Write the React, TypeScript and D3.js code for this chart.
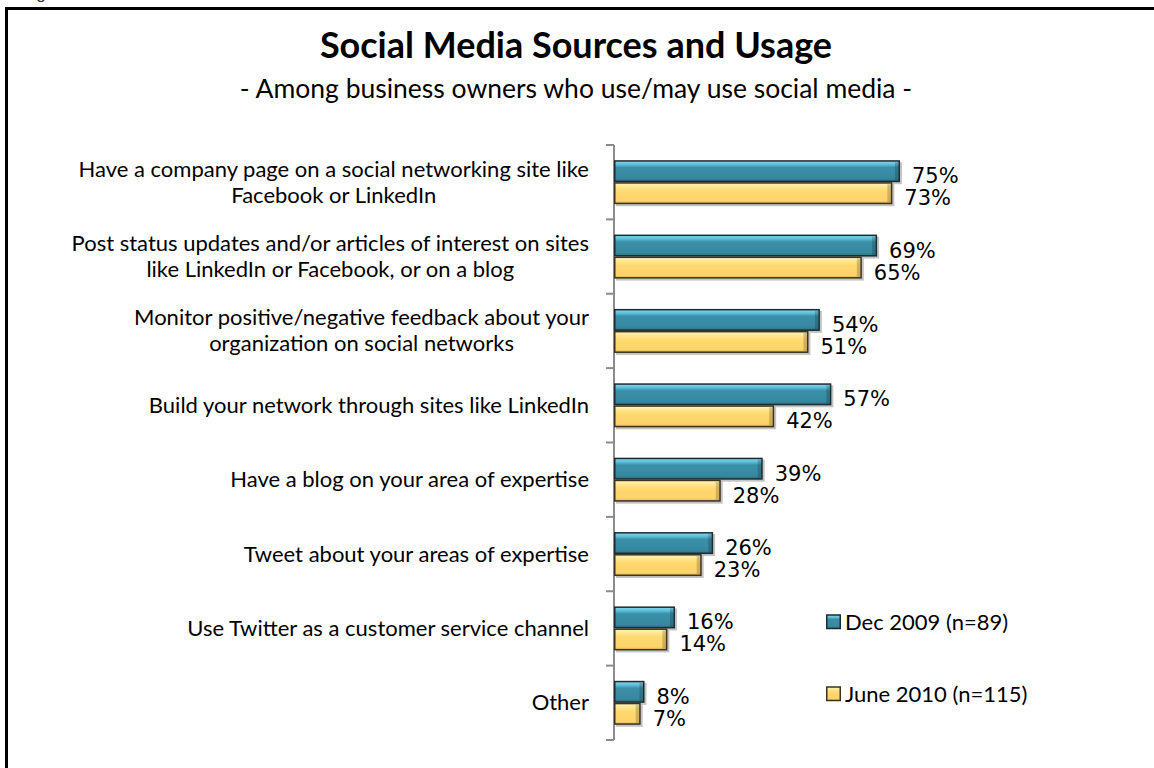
import React, { useEffect, useRef } from "react";
import * as d3 from "d3";

const categories: string[][] = [
  ["Have a company page on a social networking site like", "Facebook or LinkedIn"],
  ["Post status updates and/or articles of interest on sites", "like LinkedIn or Facebook, or on a blog"],
  ["Monitor positive/negative feedback about your", "organization on social networks"],
  ["Build your network through sites like LinkedIn"],
  ["Have a blog on your area of expertise"],
  ["Tweet about your areas of expertise"],
  ["Use Twitter as a customer service channel"],
  ["Other"],
];
const dec2009: number[] = [75, 69, 54, 57, 39, 26, 16, 8];
const june2010: number[] = [73, 65, 51, 42, 28, 23, 14, 7];
const seriesNames: string[] = ["Dec 2009 (n=89)", "June 2010 (n=115)"];
const title = "Social Media Sources and Usage";
const subtitle = "- Among business owners who use/may use social media -";

const W = 1154;
const H = 768;
const LABEL_FONT = "Lato, 'Open Sans', sans-serif";

export default function App() {
  const ref = useRef<SVGSVGElement | null>(null);

  useEffect(() => {
    const svg = d3.select(ref.current);
    svg.selectAll("*").remove();

    const defs = svg.append("defs");
    const tg = defs.append("linearGradient").attr("id", "teal").attr("x1", 0).attr("y1", 0).attr("x2", 0).attr("y2", 1);
    tg.append("stop").attr("offset", "0%").attr("stop-color", "#86d9f0");
    tg.append("stop").attr("offset", "18%").attr("stop-color", "#5cbcd8");
    tg.append("stop").attr("offset", "32%").attr("stop-color", "#3b90a8");
    tg.append("stop").attr("offset", "85%").attr("stop-color", "#36889f");
    tg.append("stop").attr("offset", "100%").attr("stop-color", "#2a6f84");
    const yg = defs.append("linearGradient").attr("id", "yellow").attr("x1", 0).attr("y1", 0).attr("x2", 0).attr("y2", 1);
    yg.append("stop").attr("offset", "0%").attr("stop-color", "#fff6b8");
    yg.append("stop").attr("offset", "22%").attr("stop-color", "#ffe48a");
    yg.append("stop").attr("offset", "40%").attr("stop-color", "#ffd870");
    yg.append("stop").attr("offset", "88%").attr("stop-color", "#fdd26a");
    yg.append("stop").attr("offset", "100%").attr("stop-color", "#e0b04c");

    // Border frame (only top and left edges are visible in the reference)
    svg.append("path").attr("d", `M6.5,${H} L6.5,8.5 L${W},8.5`)
      .attr("fill", "none").attr("stroke", "#000").attr("stroke-width", 3);
    svg.append("text").attr("x", 22).attr("y", -1).attr("font-family", "'Liberation Sans', Arial, sans-serif")
      .attr("font-size", 17).attr("fill", "#333").text("Figure 3");

    // Titles
    svg.append("text").attr("x", 576).attr("y", 58).attr("text-anchor", "middle")
      .attr("font-family", LABEL_FONT).attr("font-weight", "bold").attr("font-size", 36).attr("fill", "#000").text(title);
    svg.append("text").attr("x", 576).attr("y", 98).attr("text-anchor", "middle")
      .attr("font-family", LABEL_FONT).attr("font-size", 26.5).attr("fill", "#000").text(subtitle);

    const y = d3.scaleBand<number>().domain(d3.range(categories.length)).range([145, 740]).padding(0);
    const x = d3.scaleLinear().domain([0, 100]).range([614, 614 + 381.3]);
    const barH = 22;

    // axis
    const axisG = svg.append("g");
    axisG.append("line").attr("x1", 614).attr("x2", 614).attr("y1", 145).attr("y2", 740)
      .attr("stroke", "#8c8c8c").attr("stroke-width", 2);
    const ticks = d3.range(categories.length + 1).map((i) => 145 + i * y.bandwidth());
    axisG.selectAll("line.tick").data(ticks).enter().append("line").attr("class", "tick")
      .attr("x1", 606).attr("x2", 614).attr("y1", (d) => d).attr("y2", (d) => d)
      .attr("stroke", "#8c8c8c").attr("stroke-width", 2);

    const series = [
      { values: dec2009, fill: "url(#teal)", stroke: "#1e2a2e", off: -barH },
      { values: june2010, fill: "url(#yellow)", stroke: "#3b3220", off: 0 },
    ];

    series.forEach((s) => {
      const g = svg.append("g");
      g.selectAll("rect.sh").data(s.values).enter().append("rect").attr("class", "sh")
        .attr("x", x(0) + 2).attr("y", (_, i) => (y(i) as number) + y.bandwidth() / 2 + s.off + 2)
        .attr("width", (d) => x(d) - x(0)).attr("height", barH)
        .attr("fill", "#555").attr("opacity", 0.35);
      g.selectAll("rect.bar").data(s.values).enter().append("rect").attr("class", "bar")
        .attr("x", x(0) + 0.75).attr("y", (_, i) => (y(i) as number) + y.bandwidth() / 2 + s.off + 0.75)
        .attr("width", (d) => x(d) - x(0) - 1.5).attr("height", barH - 1.5)
        .attr("fill", s.fill).attr("stroke", s.stroke).attr("stroke-width", 1.5);
      g.selectAll("rect.bev").data(s.values).enter().append("rect").attr("class", "bev")
        .attr("x", (d) => x(d) - 5).attr("y", (_, i) => (y(i) as number) + y.bandwidth() / 2 + s.off + 2)
        .attr("width", 3.5).attr("height", barH - 4)
        .attr("fill", "#000").attr("opacity", 0.18);
      g.selectAll("text").data(s.values).enter().append("text")
        .attr("x", (d) => x(d) + 12).attr("y", (_, i) => (y(i) as number) + y.bandwidth() / 2 + s.off + barH + 1)
        .attr("font-family", "'DejaVu Sans', Verdana, sans-serif").attr("font-size", 21).attr("fill", "#000")
        .text((d) => `${d}%`);
    });

    // category labels
    const lineH = 26;
    categories.forEach((lines, i) => {
      const cy = (y(i) as number) + y.bandwidth() / 2;
      const t = svg.append("text").attr("font-family", LABEL_FONT).attr("font-size", 22).attr("fill", "#000")
        .attr("text-anchor", "middle");
      const tspans = lines.map((ln, j) =>
        t.append("tspan").attr("x", 0).attr("y", cy + (j - (lines.length - 1) / 2) * lineH + 7.5).text(ln)
      );
      let maxW = 0;
      tspans.forEach((ts) => {
        const w = (ts.node() as SVGTSpanElement).getComputedTextLength();
        if (w > maxW) maxW = w;
      });
      const cx = 589 - maxW / 2;
      tspans.forEach((ts) => ts.attr("x", cx));
    });

    // legend
    const legendY = [622, 694];
    const legendFill = ["url(#teal)", "url(#yellow)"];
    const legendStroke = ["#1e2a2e", "#3b3220"];
    seriesNames.forEach((name, i) => {
      svg.append("rect").attr("x", 826.75).attr("y", legendY[i] - 7).attr("width", 13.5).attr("height", 13.5)
        .attr("fill", legendFill[i]).attr("stroke", legendStroke[i]).attr("stroke-width", 1.5);
      svg.append("text").attr("x", 845).attr("y", legendY[i] + 8).attr("font-family", LABEL_FONT)
        .attr("font-size", 22).attr("fill", "#000").text(name);
    });
  }, []);

  return (
    <svg ref={ref} width={W} height={H} style={{ position: "absolute", left: 0, top: 0, background: "#fff", overflow: "hidden" }} />
  );
}
